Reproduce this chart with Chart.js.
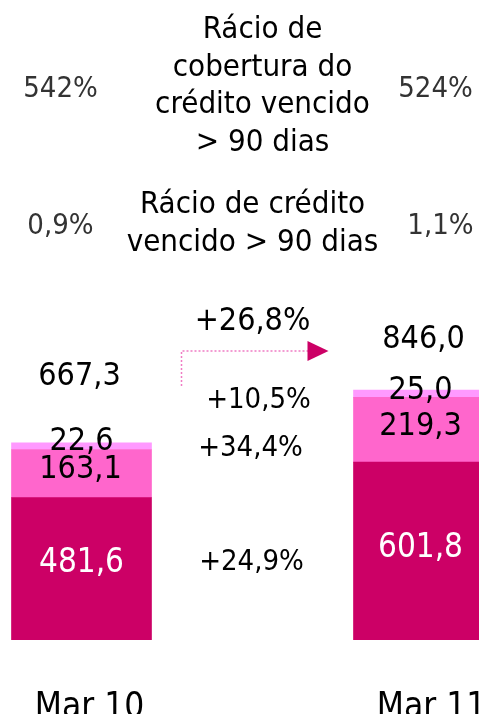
<!DOCTYPE html>
<html>
<head>
<meta charset="utf-8">
<script src="https://cdn.jsdelivr.net/npm/chart.js@4.4.1/dist/chart.umd.min.js"></script>
<style>
  html, body { margin: 0; padding: 0; background: #ffffff; }
  #frame { position: relative; width: 479px; height: 714px; overflow: hidden; background: #ffffff; }
  #chart { position: absolute; left: -4px; top: 0; }
</style>
</head>
<body>
<div id="frame"><canvas id="chart" width="513" height="714"></canvas></div>
<script>
// Periods shown on the x axis (middle slot holds the change column)
const categories = ['Mar 10', '', 'Mar 11'];
// Stacked segments, bottom to top
const lowerValues = [481.6, null, 601.8];
const middleValues = [163.1, null, 219.3];
const upperValues = [22.6, null, 25.0];
const totals = [667.3, null, 846.0];
// Year-on-year changes: total, upper, middle, lower
const changeTotal = '+26,8%';
const changeUpper = '+10,5%';
const changeMiddle = '+34,4%';
const changeLower = '+24,9%';
// Ratios shown above the bars
const coverageRatio = ['542%', '524%'];
const overdueRatio = ['0,9%', '1,1%'];
const coverageTitle = ['Rácio de', 'cobertura do', 'crédito vencido', '> 90 dias'];
const overdueTitle = ['Rácio de crédito', 'vencido > 90 dias'];

const FONT = '"DejaVu Sans Condensed", "DejaVu Sans", sans-serif';
const fmt = v => v.toFixed(1).replace('.', ',');

const textPlugin = {
  id: 'texts',
  afterDraw(chart) {
    const ctx = chart.ctx;
    const x = chart.scales.x;
    const c0 = x.getPixelForValue(0);
    const c1 = x.getPixelForValue(1);
    const c2 = x.getPixelForValue(2);
    ctx.save();
    ctx.textAlign = 'center';
    ctx.textBaseline = 'alphabetic';
    const put = (t, px, py, size, color) => {
      ctx.font = size + 'px ' + FONT;
      ctx.fillStyle = color;
      ctx.fillText(t, px, py);
    };
    // coverage ratio block
    coverageTitle.forEach((t, i) => put(t, c1 + 10, 38 + i * 37.5, 31, '#000000'));
    put(coverageRatio[0], c0 - 21, 97, 29, '#333333');
    put(coverageRatio[1], c2 + 12, 97, 29, '#333333');
    // overdue ratio block
    overdueTitle.forEach((t, i) => put(t, c1, 213 + i * 38, 31, '#000000'));
    put(overdueRatio[0], c0 - 21, 234, 29, '#333333');
    put(overdueRatio[1], c2 + 17, 234, 29, '#333333');

    // total change with arrow
    put(changeTotal, c1, 330, 32, '#000000');
    const ax = c1 - 71, ay = 351;
    ctx.strokeStyle = '#F07CC4';
    ctx.lineWidth = 1.5;
    ctx.setLineDash([2, 2]);
    ctx.beginPath();
    ctx.moveTo(ax, 386);
    ctx.lineTo(ax, ay);
    ctx.lineTo(ax + 128, ay);
    ctx.stroke();
    ctx.setLineDash([]);
    ctx.fillStyle = '#CC0066';
    ctx.beginPath();
    ctx.moveTo(ax + 126, ay - 10);
    ctx.lineTo(ax + 147, ay);
    ctx.lineTo(ax + 126, ay + 10);
    ctx.closePath();
    ctx.fill();

    // segment changes
    put(changeUpper, c1 + 6, 408, 29, '#000000');
    put(changeMiddle, c1 - 2, 456, 29, '#000000');
    put(changeLower, c1 - 1, 570, 29, '#000000');

    // totals
    put(fmt(totals[0]), c0 - 2, 385, 32, '#000000');
    put(fmt(totals[2]), c2, 348, 32, '#000000');

    // segment values
    put(fmt(upperValues[0]), c0, 450, 32, '#000000');
    put(fmt(middleValues[0]), c0 - 1, 478, 32, '#000000');
    put(fmt(lowerValues[0]), c0, 572, 33, '#ffffff');
    put(fmt(upperValues[2]), c2 - 3, 399, 32, '#000000');
    put(fmt(middleValues[2]), c2 - 3, 435, 32, '#000000');
    put(fmt(lowerValues[2]), c2 - 3, 557, 33, '#ffffff');

    // period labels
    put(categories[0], c0 + 8, 717, 35, '#000000');
    put(categories[2], c2 + 8, 717, 35, '#000000');
    ctx.restore();
  }
};

new Chart(document.getElementById('chart'), {
  type: 'bar',
  data: {
    labels: categories,
    datasets: [
      { data: lowerValues, backgroundColor: '#CC0066' },
      { data: middleValues, backgroundColor: '#FF66CC' },
      { data: upperValues, backgroundColor: '#FF99FF' }
    ]
  },
  options: {
    responsive: false,
    devicePixelRatio: 1,
    animation: false,
    layout: { padding: { left: 0, right: 0, top: 0, bottom: 74 } },
    datasets: { bar: { barThickness: 140, borderWidth: 0 } },
    plugins: { legend: { display: false }, tooltip: { enabled: false } },
    scales: {
      x: { stacked: true, display: false },
      y: { stacked: true, display: false, min: 0, max: 2166 }
    }
  },
  plugins: [textPlugin]
});
</script>
</body>
</html>
